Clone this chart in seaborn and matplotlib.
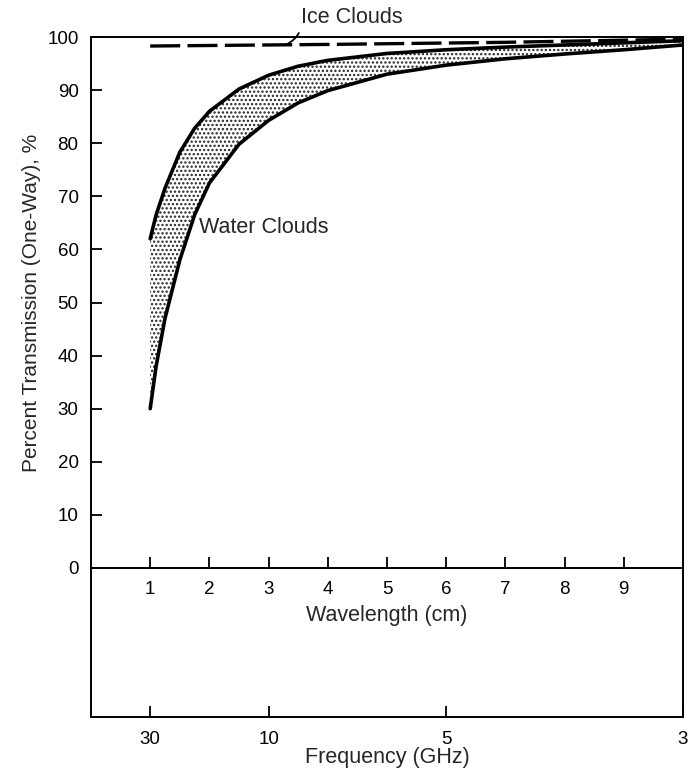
import matplotlib
matplotlib.use("Agg")
import matplotlib.pyplot as plt
import seaborn as sns
import pandas as pd

# ---- data ----
wavelength_cm = [1.0, 1.1, 1.25, 1.5, 1.75, 2.0, 2.5, 3.0, 3.5, 4.0, 5.0, 6.0, 7.0, 8.0, 9.0, 10.0]
water_upper = [62, 66.5, 71.5, 78.3, 82.8, 86.0, 90.2, 92.8, 94.5, 95.6, 96.9, 97.6, 98.1, 98.5, 98.9, 99.3]
water_lower = [30, 38, 47, 58, 66.5, 72.5, 79.8, 84.3, 87.6, 89.9, 93.0, 94.7, 95.9, 96.8, 97.6, 98.5]
ice_wavelength = [1.0, 4.0, 7.0, 10.0]
ice_values = [98.3, 98.6, 99.0, 99.6]
wl_ticks = [1, 2, 3, 4, 5, 6, 7, 8, 9]
freq_ticks_ghz = [30, 10, 5, 3]
y_ticks = [0, 10, 20, 30, 40, 50, 60, 70, 80, 90, 100]

sns.set_style("white")
plt.rcParams["font.family"] = ["Liberation Sans", "DejaVu Sans"]
plt.rcParams["hatch.linewidth"] = 1.1
plt.rcParams["hatch.color"] = "#222222"

W, H = 688, 779
fig = plt.figure(figsize=(W / 100, H / 100), dpi=100)
L, R = 91, 683
TOP, MID, BOT = 37, 568, 717
ax = fig.add_axes([L / W, 1 - MID / H, (R - L) / W, (MID - TOP) / H])
ax2 = fig.add_axes([L / W, 1 - BOT / H, (R - L) / W, (BOT - MID) / H])
ax2.patch.set_visible(False)

df = pd.DataFrame({"wl": wavelength_cm, "upper": water_upper, "lower": water_lower})
ice = pd.DataFrame({"wl": ice_wavelength, "val": ice_values})

ax.fill_between(df["wl"], df["lower"], df["upper"], facecolor="white",
                hatch="....", edgecolor="#222222", linewidth=0)
sns.lineplot(data=df, x="wl", y="upper", ax=ax, color="black", lw=2.6,
             estimator=None, sort=False)
sns.lineplot(data=df, x="wl", y="lower", ax=ax, color="black", lw=2.6,
             estimator=None, sort=False)
sns.lineplot(data=ice, x="wl", y="val", ax=ax, color="black", lw=2.4,
             estimator=None, sort=False)
ax.lines[-1].set_dashes([9, 2.2])

ax.set_xlim(0, 10)
ax.set_ylim(0, 100)
ax.set_xticks(wl_ticks)
ax.set_xticklabels([str(t) for t in wl_ticks])
ax.set_yticks(y_ticks)
ax.set_yticklabels([str(t) for t in y_ticks])
ax.tick_params(axis="both", direction="in", length=8, width=1.3,
               labelsize=13.5, colors="black", bottom=True, left=True)
ax.tick_params(axis="x", pad=9)
ax.tick_params(axis="y", pad=9)
ax.set_xlabel("Wavelength (cm)", fontsize=15.5)
ax.xaxis.set_label_coords(0.5, -0.07)
ax.set_ylabel("Percent Transmission (One-Way), %", fontsize=15)
ax.yaxis.set_label_coords(-0.085, 0.5)
for s in ax.spines.values():
    s.set_linewidth(1.4)
    s.set_color("black")

ax.text(1.83, 64.2, "Water Clouds", fontsize=15.5, ha="left", va="center")
ax.annotate("Ice Clouds", xy=(3.3, 98.6), xytext=(3.55, 103.6),
            fontsize=15.5, ha="left", va="center", annotation_clip=False,
            arrowprops=dict(arrowstyle="-", lw=1.3, color="black",
                            connectionstyle="arc3,rad=-0.35",
                            relpos=(0, 0.5), shrinkA=1, shrinkB=0))

# frequency axis (lambda = 30 / f)
ax2.set_xlim(0, 10)
ax2.set_ylim(0, 1)
ax2.set_xticks([30.0 / f for f in freq_ticks_ghz])
ax2.set_xticklabels([str(f) for f in freq_ticks_ghz])
ax2.set_yticks([])
ax2.tick_params(axis="x", direction="in", length=8, width=1.3,
                labelsize=13.5, pad=10, colors="black", bottom=True)
ax2.spines["top"].set_visible(False)
for k in ["left", "right", "bottom"]:
    ax2.spines[k].set_linewidth(1.4)
    ax2.spines[k].set_color("black")
ax2.set_xlabel("Frequency (GHz)", fontsize=15.5)
ax2.xaxis.set_label_coords(0.5, -0.2)

fig.savefig("out.png", dpi=100)
